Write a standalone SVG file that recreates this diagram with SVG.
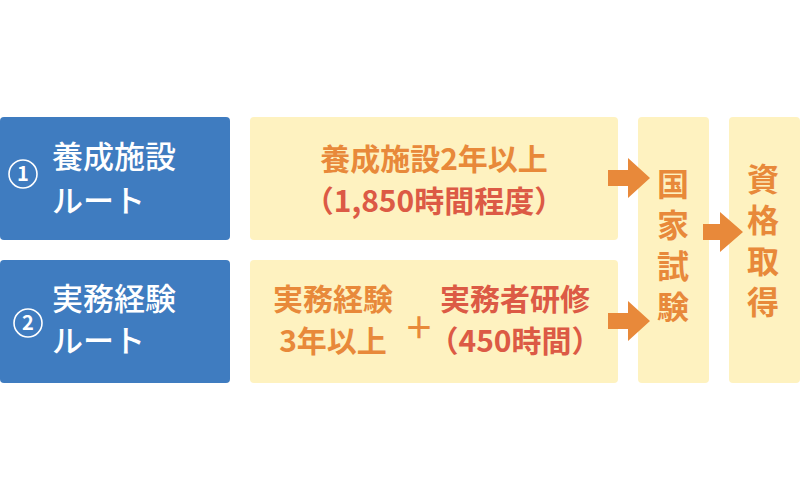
<svg xmlns="http://www.w3.org/2000/svg" width="800" height="500" viewBox="0 0 800 500">
<style>
text{font-family:"Noto Sans CJK JP","Noto Sans",sans-serif;font-weight:bold}
.b{fill:#3f7cc0}
.y{fill:#fef2c0}
.w{fill:#fff;font-weight:500;font-size:31px}
.o{fill:#e8893a;font-size:30px}
.r{fill:#dc5a45;font-size:30px}
.v{fill:#e8893a;font-size:32px}
.a{fill:#e8893a}
</style>
<rect width="800" height="500" fill="#fff"/>
<g id="route1">
<rect class="b" x="0" y="117" width="230" height="123" rx="4"/>
<circle cx="23" cy="174" r="14" fill="none" stroke="#fff" stroke-width="1.6"/>
<text x="23" y="181" fill="#fff" font-size="20" text-anchor="middle">1</text>
<text class="w" x="52" y="168">養成施設</text>
<text class="w" x="52" y="212">ルート</text>
</g>
<g id="route2">
<rect class="b" x="0" y="260" width="230" height="123" rx="4"/>
<circle cx="28" cy="323" r="14" fill="none" stroke="#fff" stroke-width="1.6"/>
<text x="28" y="330" fill="#fff" font-size="20" text-anchor="middle">2</text>
<text class="w" x="52" y="310">実務経験</text>
<text class="w" x="52" y="352">ルート</text>
</g>
<g id="box1">
<rect class="y" x="250" y="117" width="368" height="123" rx="4"/>
<text class="o" x="434" y="170" text-anchor="middle">養成施設2年以上</text>
<text class="r" x="434" y="212" text-anchor="middle">（1,850時間程度）</text>
</g>
<g id="box2">
<rect class="y" x="250" y="260" width="368" height="123" rx="4"/>
<text class="o" x="333" y="310" text-anchor="middle">実務経験</text>
<text class="o" x="333" y="352" text-anchor="middle">3年以上</text>
<text x="419" y="338" fill="#e8893a" font-size="30" font-weight="normal" text-anchor="middle">＋</text>
<text class="r" x="515" y="310" text-anchor="middle">実務者研修</text>
<text class="r" x="515" y="352" text-anchor="middle">（450時間）</text>
</g>
<g id="exam">
<rect class="y" x="638" y="117" width="71" height="266" rx="4"/>
<text class="v" x="673" y="196" text-anchor="middle">国</text>
<text class="v" x="673" y="237" text-anchor="middle">家</text>
<text class="v" x="673" y="278" text-anchor="middle">試</text>
<text class="v" x="673" y="319" text-anchor="middle">験</text>
</g>
<g id="qualify">
<rect class="y" x="729" y="117" width="71" height="266" rx="4"/>
<text class="v" x="763" y="191" text-anchor="middle">資</text>
<text class="v" x="763" y="232" text-anchor="middle">格</text>
<text class="v" x="763" y="273" text-anchor="middle">取</text>
<text class="v" x="763" y="314" text-anchor="middle">得</text>
</g>
<g id="connectors">
<polygon class="a" points="608,170 628,170 628,158 650,178 628,198 628,186 608,186"/>
<polygon class="a" points="608,313 628,313 628,301 650,321 628,341 628,329 608,329"/>
<polygon class="a" points="703,224 720,224 720,212 743,232 720,252 720,240 703,240"/>
</g>
</svg>
